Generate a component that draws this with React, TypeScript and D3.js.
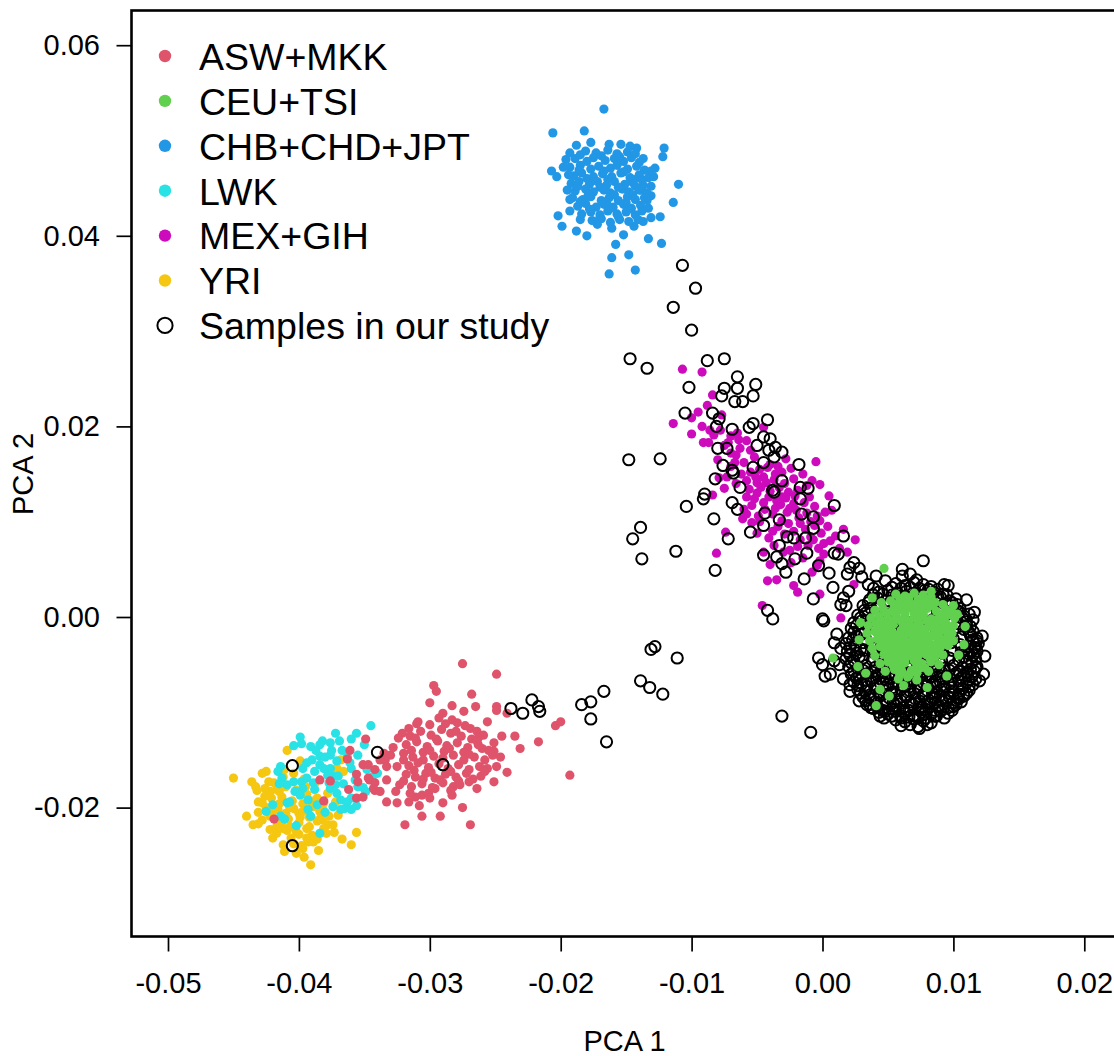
import { useEffect, useRef } from "react"
import * as d3 from "d3"

// PC scores, in units of 1e-4: [PCA 1, PCA 2]
type Pt = [number, number]

const aswMkk: Pt[] = [
  [-275, -49], [-249, -60], [-297, -72], [-295, -78], [-268, -81], [-300, -90], [-265, -94], [-249, -94], [-249, -98],
  [-241, -101], [-274, -99], [-290, -101], [-293, -106], [-300, -113], [-310, -112], [-316, -117], [-321, -122],
  [-324, -127], [-283, -108], [-279, -111], [-273, -114], [-269, -117], [-264, -120], [-263, -127], [-260, -138],
  [-251, -132], [-251, -141], [-245, -125], [-235, -125], [-231, -138], [-217, -131], [-204, -114], [-200, -110],
  [-193, -166], [-249, -157], [-241, -163], [-251, -173], [-256, -159], [-264, -180], [-270, -173], [-275, -200],
  [-269, -218], [-292, -209], [-306, -209], [-319, -218], [-308, -198], [-316, -194], [-306, -187], [-311, -189],
  [-326, -183], [-323, -176], [-333, -171], [-333, -157], [-325, -157], [-330, -145], [-335, -143], [-349, -128],
  [-346, -171], [-342, -174], [-342, -182], [-347, -169], [-351, -155], [-356, -190], [-351, -189], [-282, -178],
  [-277, -176], [-283, -187], [-296, -180], [-301, -185], [-361, -140], [-363, -149], [-347, -155], [-334, -150],
  [-384, -171], [-376, -172], [-356, -165], [-355, -173], [-362, -181], [-343, -180], [-338, -183], [-333, -194],
  [-381, -193], [-419, -212],
  [-315, -125], [-307, -120], [-299, -124], [-291, -118], [-284, -122], [-276, -125], [-268, -128], [-259, -124],
  [-318, -134], [-310, -131], [-302, -136], [-294, -130], [-287, -135], [-279, -132], [-271, -137], [-263, -134],
  [-255, -140], [-320, -143], [-313, -147], [-305, -142], [-297, -146], [-289, -141], [-282, -145], [-274, -142],
  [-266, -147], [-258, -150], [-246, -147], [-316, -156], [-309, -153], [-301, -158], [-293, -154], [-286, -159],
  [-278, -155], [-270, -160], [-262, -157], [-318, -165], [-311, -168], [-303, -164], [-296, -169], [-288, -165],
  [-280, -168], [-272, -164], [-261, -167], [-314, -178], [-306, -175], [-298, -179], [-290, -174], [-284, -182],
  [-315, -185], [-342, -160], [-338, -150], [-328, -137], [-309, -110], [-288, -112],
  [-311, -127], [-295, -128], [-280, -120], [-264, -130], [-314, -140], [-300, -140], [-285, -138], [-270, -144],
  [-252, -145], [-320, -150], [-305, -150], [-290, -148], [-274, -150], [-258, -162], [-312, -161], [-299, -163],
  [-284, -162], [-267, -170], [-320, -172], [-305, -170], [-292, -171], [-278, -172], [-300, -190], [-290, -195],
  [-325, -195], [-283, -93], [-256, -110],
]

const ceuTsi: Pt[] = [
  [56, 24], [63, 22], [70, 25], [77, 23], [83, 21],
  [45, 15], [52, 17], [58, 14], [65, 16], [72, 13], [79, 17], [86, 15], [92, 13],
  [40, 7], [46, 9], [53, 6], [60, 8], [66, 10], [73, 7], [80, 9], [87, 6], [94, 8], [99, 5],
  [37, -1], [43, 1], [50, -2], [56, 0], [63, 2], [70, -1], [76, 1], [83, -2], [90, 0], [96, 2], [101, -1],
  [35, -9], [41, -7], [48, -10], [54, -8], [61, -6], [67, -9], [74, -7], [81, -10], [87, -8], [94, -6], [100, -9],
  [34, -17], [40, -15], [47, -18], [53, -16], [60, -14], [66, -17], [73, -15], [79, -18], [86, -16], [92, -14], [99, -17],
  [36, -25], [42, -23], [49, -26], [55, -24], [62, -22], [68, -25], [75, -23], [81, -26], [88, -24], [95, -22], [100, -25],
  [38, -33], [44, -31], [51, -34], [57, -32], [64, -30], [70, -33], [77, -31], [83, -34], [90, -32], [96, -30],
  [40, -41], [47, -39], [53, -42], [60, -40], [66, -38], [73, -41], [79, -39], [86, -42], [92, -40],
  [44, -49], [50, -47], [57, -50], [63, -48], [70, -46], [76, -49], [83, -47], [89, -50],
  [48, -57], [55, -55], [61, -58], [68, -56], [74, -54], [81, -57],
  [58, -65], [65, -63], [72, -66],
  [59, 19], [66, 20], [73, 18],
  [55, 12], [62, 11], [69, 13], [76, 11], [83, 12],
  [49, 4], [56, 3], [63, 5], [70, 4], [77, 3], [91, 3],
  [46, -4], [53, -5], [59, -3], [66, -4], [73, -5], [80, -4], [87, -3], [93, -5],
  [44, -12], [51, -13], [64, -13], [71, -12], [77, -13], [84, -11], [90, -13], [97, -12],
  [44, -20], [50, -22], [57, -19], [70, -20], [76, -22], [83, -20], [89, -21], [96, -19],
  [45, -27], [52, -30], [59, -28], [65, -27], [72, -29], [78, -27], [85, -30], [92, -28],
  [48, -35], [55, -38], [61, -36], [68, -35], [74, -37], [81, -35], [87, -37],
  [50, -43], [57, -46], [63, -44], [69, -42], [82, -43],
  [54, -51], [60, -54], [72, -50], [78, -53],
  [59, -60], [66, -61], [72, -59],
  [47, 51], [8, -43], [41, -93], [109, -10], [108, -29], [103, 3], [51, -83], [44, -76], [80, -74], [83, 27],
  [27, -52], [33, -59], [29, -6], [28, -24], [38, 20], [104, -40], [95, -62], [62, -72], [100, 12],
]

const chbChdJpt: Pt[] = [
  [-167, 533], [-206, 508], [-182, 510], [-121, 492], [-122, 483], [-207, 468], [-203, 462], [-110, 454], [-114, 435],
  [-202, 421], [-199, 410], [-188, 405], [-180, 400], [-133, 397], [-123, 392], [-158, 391], [-148, 380], [-161, 377],
  [-163, 360], [-143, 364], [-124, 420], [-131, 442], [-128, 471], [-137, 481], [-142, 492], [-147, 494], [-154, 496],
  [-163, 496], [-177, 498], [-188, 495], [-193, 487], [-196, 480], [-198, 472], [-195, 448], [-193, 438], [-193, 426],
  [-185, 417], [-172, 412], [-161, 408], [-152, 401], [-144, 410], [-137, 415], [-131, 419], [-133, 429], [-139, 448],
  [-138, 459], [-129, 462],
  [-181, 489], [-173, 487], [-164, 490], [-157, 486], [-149, 488],
  [-189, 481], [-180, 478], [-175, 482], [-166, 479], [-159, 481], [-152, 478], [-146, 482], [-140, 477],
  [-193, 472], [-185, 474], [-177, 470], [-171, 473], [-162, 471], [-157, 474], [-149, 470], [-142, 473], [-136, 469],
  [-190, 463], [-184, 466], [-175, 462], [-168, 465], [-161, 462], [-154, 466], [-147, 461], [-140, 464], [-133, 461],
  [-192, 455], [-186, 457], [-178, 454], [-172, 457], [-165, 453], [-159, 457], [-151, 454], [-145, 456], [-137, 453],
  [-189, 447], [-181, 449], [-175, 446], [-167, 448], [-162, 445], [-153, 449], [-148, 446], [-140, 448], [-134, 445],
  [-191, 440], [-183, 438], [-177, 441], [-169, 437], [-163, 440], [-156, 437], [-149, 441], [-143, 438], [-136, 440],
  [-187, 431], [-181, 434], [-173, 430], [-167, 433], [-160, 430], [-152, 433], [-146, 429], [-139, 432],
  [-184, 423], [-177, 425], [-170, 422], [-164, 426], [-157, 423], [-150, 425], [-143, 422], [-138, 426],
  [-176, 416], [-169, 418], [-162, 414], [-155, 417], [-148, 415], [-141, 417],
  [-185, 485], [-169, 484], [-155, 483], [-143, 486], [-186, 469], [-167, 468], [-152, 467], [-180, 460], [-164, 459],
  [-144, 459], [-187, 452], [-170, 451], [-156, 451], [-143, 452], [-179, 443], [-159, 443], [-145, 443], [-185, 436],
  [-165, 435], [-150, 435], [-178, 428], [-162, 429], [-148, 428], [-170, 419], [-156, 420], [-194, 464], [-131, 468],
  [-131, 452], [-134, 437],
]

const lwk: Pt[] = [
  [-345, -114], [-356, -122], [-372, -122], [-399, -126], [-382, -130], [-384, -134], [-376, -132], [-404, -135],
  [-398, -133], [-391, -136], [-375, -140], [-376, -145], [-367, -140], [-350, -134], [-355, -145], [-384, -146],
  [-390, -150], [-394, -153], [-397, -159], [-414, -157], [-416, -162], [-384, -155], [-381, -159], [-388, -162],
  [-361, -153], [-360, -159], [-376, -159], [-374, -167], [-370, -167], [-413, -169], [-409, -176], [-404, -173],
  [-398, -173], [-394, -169], [-389, -174], [-388, -181], [-377, -174], [-376, -180], [-357, -171], [-355, -178],
  [-351, -179], [-344, -168], [-349, -183], [-397, -180], [-403, -183], [-399, -187], [-409, -195], [-407, -194],
  [-420, -197], [-425, -204], [-368, -192], [-363, -194], [-365, -201], [-368, -202], [-356, -198], [-360, -202],
  [-374, -199], [-393, -202], [-391, -209], [-414, -209], [-411, -212], [-384, -227], [-402, -219], [-371, -185],
  [-340, -164],
  [-387, -140], [-380, -147], [-371, -151], [-363, -147], [-378, -166], [-366, -175], [-360, -190], [-372, -176],
  [-348, -160], [-393, -192], [-386, -197], [-380, -205], [-415, -175], [-369, -130], [-360, -128],
]

const mexGih: Pt[] = [
  [-107, 260], [-92, 257], [-84, 233], [-114, 203], [-100, 209], [-77, 212], [-86, 196], [-83, 191], [-91, 183],
  [-87, 183], [-65, 193], [-72, 183], [-70, 172], [-63, 177], [-55, 175], [-45, 199], [-60, 162], [-67, 162],
  [-28, 166], [-5, 163], [-42, 157], [-73, 147], [-79, 146], [-50, 141], [-45, 147], [-36, 150], [-31, 152],
  [-2, 139], [-75, 135], [-84, 128], [-58, 126], [-50, 130], [-41, 126], [-31, 126], [-22, 119], [-10, 126],
  [5, 127], [7, 112], [-54, 117], [-60, 113], [-49, 106], [-61, 103], [-54, 99], [-38, 108], [-31, 101], [-17, 98],
  [-2, 101], [4, 95], [10, 85], [25, 81], [-74, 89], [-50, 88], [-41, 83], [-37, 75], [-17, 81], [-7, 81], [1, 77],
  [1, 66], [19, 68], [-81, 67], [-45, 68], [-40, 55], [-24, 57], [-4, 54], [-2, 59], [-8, 47], [-42, 38], [-35, 39],
  [-22, 33], [-19, 26], [-2, 24], [-46, 12], [24, 34], [14, -1],
  [-62, 150], [-55, 152], [-48, 155], [-40, 160], [-34, 158], [-58, 143], [-51, 147], [-43, 141], [-37, 144],
  [-29, 140], [-22, 145], [-56, 134], [-47, 136], [-40, 132], [-33, 136], [-26, 131], [-19, 133], [-12, 138],
  [-52, 124], [-45, 120], [-35, 122], [-28, 125], [-21, 127], [-14, 120], [-6, 116], [-44, 113], [-36, 114],
  [-27, 110], [-20, 112], [-12, 109], [-4, 106], [-34, 95], [-26, 98], [-22, 90], [-13, 92], [-6, 96], [-29, 87],
  [-11, 75], [-25, 70], [-15, 62], [-66, 170], [-75, 180], [-80, 165], [-70, 190], [-58, 185], [-52, 168],
  [-92, 200], [-100, 192],
  [-32, 118], [-25, 114], [-18, 104], [-9, 100], [-1, 88], [6, 80], [13, 72], [-9, 84], [-3, 72], [-19, 74],
  [-30, 68], [-38, 90], [-48, 100], [-58, 108], [-66, 140], [-70, 158], [-64, 186], [-78, 196], [-95, 215],
  [-88, 222], [-15, 150], [-24, 156], [-8, 143], [2, 110], [16, 92],
]

const yri: Pt[] = [
  [-409, -140], [-399, -151], [-428, -164], [-425, -162], [-436, -173], [-433, -178], [-432, -182], [-423, -173],
  [-419, -174], [-422, -183], [-417, -181], [-431, -194], [-426, -188], [-421, -190], [-440, -209], [-435, -218],
  [-431, -217], [-428, -213], [-422, -209], [-420, -204], [-416, -202], [-404, -201], [-400, -206], [-397, -204],
  [-382, -201], [-377, -209], [-382, -213], [-370, -208], [-372, -194], [-368, -150], [-371, -159], [-366, -162],
  [-374, -176], [-412, -222], [-407, -220], [-402, -225], [-422, -223], [-417, -227], [-420, -232], [-394, -222],
  [-390, -229], [-393, -236], [-381, -222], [-379, -227], [-412, -239], [-411, -246], [-402, -248], [-397, -243],
  [-391, -260], [-367, -233], [-360, -239], [-356, -226], [-389, -236], [-450, -169],
  [-412, -168], [-404, -164], [-396, -170], [-388, -175], [-410, -178], [-402, -182], [-394, -186], [-386, -190],
  [-378, -185], [-413, -189], [-405, -193], [-397, -196], [-389, -199], [-381, -195], [-410, -206], [-392, -210],
  [-386, -214], [-378, -218], [-408, -212], [-400, -216], [-394, -232], [-406, -232], [-413, -215], [-425, -200],
  [-428, -195], [-384, -204], [-374, -218], [-398, -240], [-404, -238],
  [-415, -196], [-407, -200], [-399, -210], [-391, -193], [-383, -210], [-417, -220], [-409, -224], [-400, -228],
  [-392, -220], [-386, -233], [-426, -180], [-415, -183], [-411, -160], [-395, -178], [-431, -205], [-385, -245],
  [-396, -252], [-373, -226],
]

const studySamples: Pt[] = [
  // between the clusters
  [-107, 369], [-97, 345], [-114, 325], [-100, 301], [-147, 271], [-134, 261], [-88, 269], [-75, 271], [-65, 252],
  [-75, 240], [-65, 240], [-51, 244], [-77, 232], [-67, 226], [-61, 226], [-53, 232], [-102, 241], [-105, 214],
  [-84, 214], [-79, 208], [-81, 200], [-69, 197], [-56, 199], [-53, 203], [-42, 207], [-45, 189], [-40, 187],
  [-50, 180], [-36, 178], [-41, 175], [-31, 173], [-37, 168], [-80, 177], [-73, 177], [-148, 165], [-124, 166],
  [-76, 159], [-69, 154], [-68, 151], [-53, 157], [-45, 162], [-18, 160], [-82, 145], [-31, 143], [-63, 136],
  [-38, 133], [-37, 131], [-17, 136], [-11, 135], [-17, 124], [-90, 129], [-91, 124], [-69, 120], [-65, 113],
  [-104, 116], [9, 117], [-44, 109], [-7, 105], [-16, 108], [-83, 103], [-33, 102], [-45, 96], [-7, 93], [-55, 89],
  [-139, 94], [-145, 82], [-72, 82], [-27, 84], [-22, 83], [-13, 83], [16, 85], [-33, 75], [-112, 69], [-138, 61],
  [-45, 65], [-35, 63], [-21, 61], [-12, 67], [9, 67], [12, 66], [24, 57], [21, 52], [-31, 56], [-28, 47], [-3, 54],
  [5, 46], [19, 45], [30, 42], [-82, 49], [-14, 40], [8, 31], [35, 34], [-7, 19], [18, 12], [-42, 7], [-38, -2],
  [0, -2],
  [-128, -31], [-131, -34], [-111, -43], [-139, -67], [-132, -74], [-122, -81], [-167, -78], [-177, -89],
  [-184, -92], [-177, -107], [-165, -131], [-222, -87], [-217, -94], [-216, -99], [-238, -96], [-229, -101],
  [-340, -142], [-290, -155], [-405, -156], [-405, -240], [-31, -104], [-9, -121], [-3, -43], [0, -50],
  // edge of the main cluster
  [28, 51], [41, 43], [61, 50], [61, 43], [77, 59], [72, 39], [93, 34], [103, 13], [116, 5], [118, -25], [117, -32],
  [114, -36], [117, -53], [120, -67], [108, -81], [103, -85], [100, -94], [86, -85], [88, -94], [75, -95], [77, -102],
  [74, -117], [60, -104], [62, -99], [48, -99], [44, -104], [34, -92], [37, -95], [21, -78], [1, -4], [11, -18],
  [9, -27], [2, -62], [6, -60], [9, -46], [14, 13], [16, 20], [20, 27], [124, -41],
  // main cluster
  [56, 35], [63, 33], [70, 36], [77, 34], [83, 32],
  [43, 26], [50, 28], [57, 25], [64, 27], [71, 24], [78, 28], [85, 26], [92, 24],
  [36, 18], [42, 20], [49, 17], [56, 19], [62, 21], [69, 17], [76, 20], [83, 18], [90, 21], [97, 17], [102, 19],
  [31, 12], [37, 9], [44, 11], [51, 13], [57, 10], [64, 12], [71, 9], [78, 11], [85, 13], [91, 10], [98, 12], [105, 9],
  [27, 2], [33, 4], [40, 1], [47, 3], [54, 5], [60, 2], [67, 4], [74, 1], [81, 3], [88, 5], [94, 2], [101, 4], [108, 1],
  [112, 3],
  [24, -6], [30, -4], [37, -7], [43, -5], [50, -3], [57, -6], [63, -4], [70, -7], [77, -5], [84, -3], [90, -6], [97, -4],
  [104, -7], [110, -5], [115, -3],
  [22, -12], [28, -14], [35, -11], [41, -13], [48, -15], [55, -12], [61, -14], [68, -11], [75, -13], [82, -15],
  [88, -12], [95, -14], [102, -11], [108, -13], [115, -15],
  [20, -22], [26, -20], [33, -23], [39, -21], [46, -19], [53, -22], [59, -20], [66, -23], [73, -21], [80, -19],
  [86, -22], [93, -20], [100, -23], [106, -21], [113, -19], [118, -22],
  [18, -28], [25, -30], [31, -27], [38, -29], [45, -31], [51, -28], [58, -30], [65, -27], [71, -29], [78, -31],
  [85, -28], [91, -30], [98, -27], [105, -29], [111, -31], [119, -28],
  [19, -36], [26, -38], [32, -35], [39, -37], [46, -39], [52, -36], [59, -38], [66, -35], [72, -37], [79, -39],
  [86, -36], [92, -38], [99, -35], [106, -37], [112, -39], [118, -36],
  [18, -44], [24, -46], [31, -43], [38, -45], [44, -47], [51, -44], [58, -46], [64, -43], [71, -45], [77, -47],
  [84, -44], [91, -46], [97, -43], [104, -45], [110, -47], [117, -44],
  [20, -52], [27, -54], [33, -51], [40, -53], [47, -55], [53, -52], [60, -54], [67, -51], [73, -53], [80, -55],
  [87, -52], [93, -54], [100, -51], [107, -53], [113, -55], [118, -52],
  [22, -60], [28, -62], [35, -59], [42, -61], [48, -63], [55, -60], [62, -62], [68, -59], [75, -61], [82, -63],
  [88, -60], [95, -62], [102, -59], [108, -61], [114, -63],
  [24, -68], [30, -70], [37, -67], [44, -69], [50, -71], [57, -68], [64, -70], [70, -67], [77, -69], [84, -71],
  [90, -68], [97, -70], [104, -67], [110, -69], [115, -71],
  [27, -76], [33, -78], [40, -75], [47, -77], [53, -79], [60, -76], [67, -78], [73, -75], [80, -77], [87, -79],
  [93, -76], [100, -78], [107, -75], [112, -77],
  [31, -84], [37, -86], [44, -83], [51, -85], [57, -87], [64, -84], [71, -86], [77, -83], [84, -85], [91, -87],
  [97, -84], [104, -86], [108, -83],
  [36, -92], [42, -94], [49, -91], [56, -93], [62, -95], [69, -92], [76, -94], [82, -91], [89, -93], [96, -95],
  [102, -92],
  [43, -100], [50, -102], [56, -99], [63, -101], [70, -103], [76, -100], [83, -102], [90, -99], [96, -101],
  [56, -108], [63, -110], [70, -107], [77, -109], [83, -111],
  [34, -73], [47, -81], [60, -88], [73, -97], [86, -90], [99, -74], [66, -105], [53, -96], [40, -89], [110, -58],
  [24, -57], [87, -104], [80, -113],
  [14, -33], [13, -50], [16, -65], [28, -88], [123, -60], [122, -20], [110, 18], [39, 30], [96, 33], [67, 45], [48, 38],
  [31, -56], [38, -58], [45, -57], [51, -59], [58, -57], [64, -58], [71, -56], [78, -58], [84, -57], [91, -58],
  [97, -56], [104, -57], [111, -59], [116, -57],
  [26, -64], [33, -66], [39, -64], [46, -66], [52, -65], [59, -64], [66, -66], [72, -64], [79, -65], [86, -67],
  [92, -64], [99, -66], [106, -64], [112, -66], [117, -65],
  [27, -72], [41, -72], [54, -74], [67, -73], [80, -72], [93, -73], [105, -72], [112, -73], [21, -71], [48, -74],
  [61, -72], [74, -74], [87, -73],
  [29, -80], [36, -82], [43, -80], [56, -81], [63, -82], [70, -80], [77, -81], [84, -80], [90, -82], [97, -80],
  [104, -81], [110, -80],
  [33, -88], [47, -89], [54, -90], [67, -89], [74, -88], [80, -89], [94, -88], [100, -90], [106, -89],
  [39, -96], [46, -98], [59, -97], [66, -98], [79, -97], [86, -98], [92, -97], [99, -98],
  [47, -106], [53, -104], [60, -106], [73, -105], [79, -106], [86, -104], [93, -106],
  [60, -114], [67, -113], [73, -115],
  [21, -40], [22, -48], [21, -32], [23, -24], [24, -16], [26, -9], [29, -1], [32, 7], [35, 15], [39, 23], [28, -42],
  [29, -34], [30, -18], [33, -4],
  [115, -40], [114, -48], [116, -32], [115, -24], [112, -16], [110, -9], [107, -1], [103, 7], [99, 15], [95, 23],
  [108, -42], [109, -34], [113, -10], [105, 5],
  [46, 24], [53, 23], [60, 22], [67, 21], [74, 22], [81, 23], [88, 22], [60, 30], [67, 31], [74, 30], [81, 29],
  [53, 31], [88, 29],
]

const xTicks = [-0.05, -0.04, -0.03, -0.02, -0.01, 0, 0.01, 0.02]
const yTicks = [-0.02, 0, 0.02, 0.04, 0.06]

const legendLabels = ["ASW+MKK", "CEU+TSI", "CHB+CHD+JPT", "LWK", "MEX+GIH", "YRI", "Samples in our study"]
const legendColors = ["#DF536B", "#61D04F", "#2297E6", "#28E2E5", "#CD0BBC", "#F5C710", null]

const font = "'Liberation Sans', Arial, Helvetica, sans-serif"

export default function App() {
  const svgRef = useRef<SVGSVGElement>(null)

  useEffect(() => {
    if (!svgRef.current) return
    const svg = d3.select(svgRef.current)
    svg.selectAll("*").remove()

    const x = d3.scaleLinear().domain([-0.05, 0.02]).range([168, 1084.3])
    const y = d3.scaleLinear().domain([-0.02, 0.06]).range([807.6, 45.2])
    const fmt = d3.formatLocale({ decimal: ".", thousands: ",", grouping: [3], currency: ["", ""], minus: "-" }).format(".2f")

    const dots = (pts: Pt[], color: string) => {
      svg
        .append("g")
        .selectAll("circle")
        .data(pts)
        .join("circle")
        .attr("cx", (d) => x(d[0] / 1e4))
        .attr("cy", (d) => y(d[1] / 1e4))
        .attr("r", 4.6)
        .attr("fill", color)
    }

    // drawing order as in the original
    dots(yri, "#F5C710")
    dots(lwk, "#28E2E5")
    dots(aswMkk, "#DF536B")
    dots(chbChdJpt, "#2297E6")
    dots(mexGih, "#CD0BBC")

    svg
      .append("g")
      .selectAll("circle")
      .data(studySamples)
      .join("circle")
      .attr("cx", (d) => x(d[0] / 1e4))
      .attr("cy", (d) => y(d[1] / 1e4))
      .attr("r", 5.6)
      .attr("fill", "none")
      .attr("stroke", "#000")
      .attr("stroke-width", 2)

    dots(ceuTsi, "#61D04F")

    // box
    svg
      .append("rect")
      .attr("x", 131.5)
      .attr("y", 10.5)
      .attr("width", 1020)
      .attr("height", 926)
      .attr("fill", "none")
      .attr("stroke", "#000")
      .attr("stroke-width", 2.6)

    // axes
    svg
      .append("g")
      .attr("transform", "translate(0,936.5)")
      .call(d3.axisBottom(x).tickValues(xTicks).tickSize(15).tickPadding(21).tickFormat((d) => fmt(d as number)))
      .call((g) => g.select(".domain").remove())
      .call((g) => g.selectAll("line").attr("stroke", "#000").attr("stroke-width", 1.7))
      .call((g) => g.selectAll("text").attr("fill", "#000"))
      .attr("font-size", 29)
      .attr("font-family", font)

    svg
      .append("g")
      .attr("transform", "translate(131.5,0)")
      .call(d3.axisLeft(y).tickValues(yTicks).tickSize(15).tickPadding(16.5).tickFormat((d) => fmt(d as number)))
      .call((g) => g.select(".domain").remove())
      .call((g) => g.selectAll("line").attr("stroke", "#000").attr("stroke-width", 1.7))
      .call((g) => g.selectAll("text").attr("fill", "#000"))
      .attr("font-size", 29)
      .attr("font-family", font)

    svg
      .append("text")
      .attr("x", 624.5)
      .attr("y", 1050.5)
      .attr("text-anchor", "middle")
      .attr("font-size", 29)
      .attr("font-family", font)
      .text("PCA 1")

    svg
      .append("text")
      .attr("transform", "translate(33,474) rotate(-90)")
      .attr("text-anchor", "middle")
      .attr("font-size", 29)
      .attr("font-family", font)
      .text("PCA 2")

    // legend
    const legend = svg.append("g")
    legendLabels.forEach((label, i) => {
      const cy = 56 + i * 44.9
      const color = legendColors[i]
      legend
        .append("circle")
        .attr("cx", 165)
        .attr("cy", cy)
        .attr("r", color ? 6.2 : 7.6)
        .attr("fill", color ?? "none")
        .attr("stroke", color ? "none" : "#000")
        .attr("stroke-width", 2)
      legend
        .append("text")
        .attr("x", 199)
        .attr("y", cy + 13.8)
        .attr("font-size", 37.5)
        .attr("font-family", font)
        .attr("fill", "#000")
        .text(label)
    })
  }, [])

  return (
    <svg
      ref={svgRef}
      width={1114}
      height={1056}
      style={{ position: "absolute", left: 0, top: 0, background: "#fff", display: "block" }}
    />
  )
}
